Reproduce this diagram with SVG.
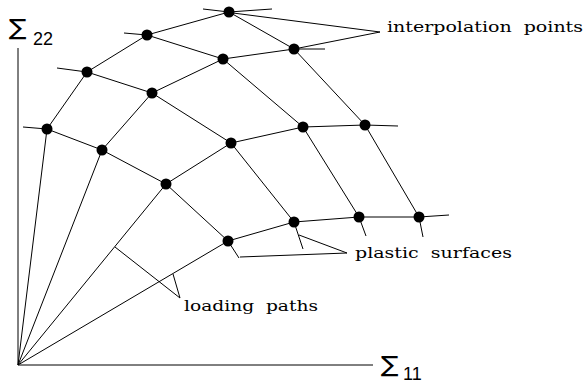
<svg xmlns="http://www.w3.org/2000/svg" width="585" height="384" viewBox="0 0 585 384">
<style>
.l{stroke:#000;stroke-width:1;fill:none}
.d{fill:#000}
.t{font-family:"DejaVu Serif","Liberation Serif",serif;font-size:15px;fill:#000;white-space:pre}
.s{font-family:"DejaVu Sans","Liberation Sans",sans-serif;fill:#000}
.n{font-family:"Liberation Sans",Arial,sans-serif;font-size:18px;fill:#000}
</style>
<rect width="585" height="384" fill="#fff"/>
<g id="axes" class="l">
<line x1="18" y1="48" x2="18" y2="365"/>
<line x1="18" y1="365" x2="373" y2="365"/>
</g>
<g id="connectors" class="l">
<polyline points="18,365 47,129 87,72 147,35 229,12"/>
<polyline points="18,365 102,150 152,93 223,59 294,49 325,49"/>
<polyline points="18,365 166,184 231,143 303,127 365,125 398,126"/>
<polyline points="18,365 228,241 294,222 359,217 419,217 449,215"/>
<polyline points="23,127 47,129 102,150 166,184 228,241 239,258"/>
<polyline points="57,68 87,72 152,93 231,143 294,222 303,249"/>
<polyline points="124,33 147,35 223,59 303,127 359,217 366,236"/>
<polyline points="203,9 229,12 294,49 365,125 419,217 423,237"/>
<line x1="229" y1="12" x2="272" y2="9"/>
<polyline points="233,13 380,32 294,49"/>
<polyline points="240,257 347,253 299,235"/>
<polyline points="115,247 180,298 173,274"/>
</g>
<g id="points" class="d">
<circle cx="47" cy="129" r="5.5"/>
<circle cx="87" cy="72" r="5.5"/>
<circle cx="147" cy="35" r="5.5"/>
<circle cx="229" cy="12" r="5.5"/>
<circle cx="102" cy="150" r="5.5"/>
<circle cx="152" cy="93" r="5.5"/>
<circle cx="223" cy="59" r="5.5"/>
<circle cx="294" cy="49" r="5.5"/>
<circle cx="166" cy="184" r="5.5"/>
<circle cx="231" cy="143" r="5.5"/>
<circle cx="303" cy="127" r="5.5"/>
<circle cx="365" cy="125" r="5.5"/>
<circle cx="228" cy="241" r="5.5"/>
<circle cx="294" cy="222" r="5.5"/>
<circle cx="359" cy="217" r="5.5"/>
<circle cx="419" cy="217" r="5.5"/>
</g>
<g id="label-sigma22">
<text class="s" transform="translate(9,35) scale(1.25,1.05)" font-size="21">∑</text>
<text class="n" x="33" y="45">22</text>
</g>
<g id="label-sigma11">
<text class="s" transform="translate(381,372) scale(1.25,1.05)" font-size="21">∑</text>
<text class="n" x="403" y="380">11</text>
</g>
<g id="label-interp"><text class="t" x="387" y="32" textLength="196" lengthAdjust="spacingAndGlyphs" xml:space="preserve">interpolation  points</text></g>
<g id="label-plastic"><text class="t" x="355" y="258" textLength="157" lengthAdjust="spacingAndGlyphs" xml:space="preserve">plastic  surfaces</text></g>
<g id="label-loading"><text class="t" x="184" y="311" textLength="134" lengthAdjust="spacingAndGlyphs" xml:space="preserve">loading  paths</text></g>
</svg>
